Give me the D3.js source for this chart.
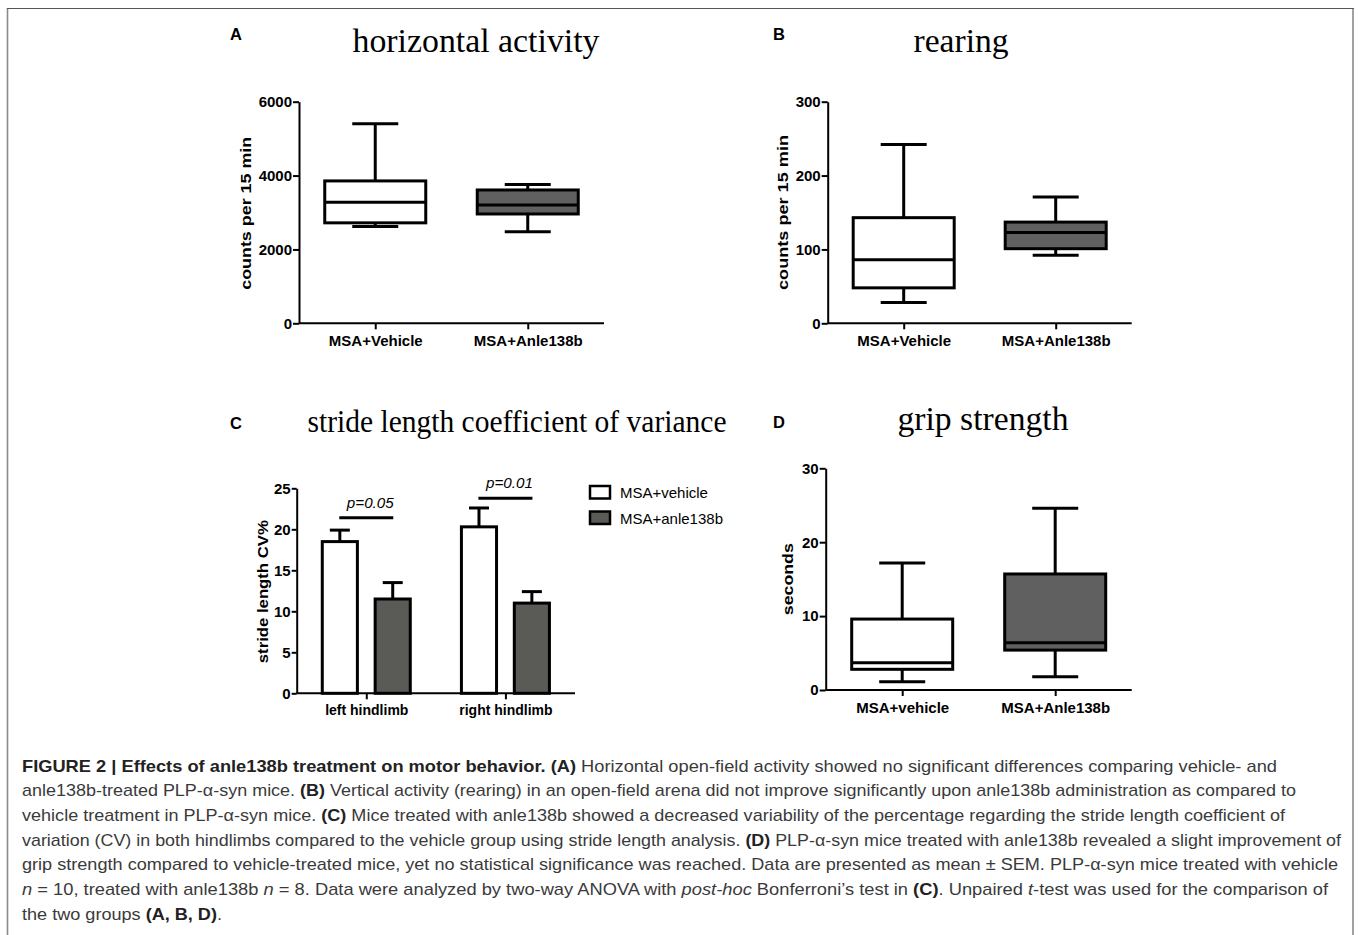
<!DOCTYPE html>
<html>
<head>
<meta charset="utf-8">
<script src="https://cdn.jsdelivr.net/npm/d3@7/dist/d3.min.js"></script>
<style>
  html, body { margin: 0; padding: 0; background: #fff; }
  svg { display: block; }
</style>
</head>
<body>
<svg id="chart" width="1358" height="935"></svg>
<script>
// ---------------- DATA ----------------
const boxGroupsAB = ["MSA+Vehicle", "MSA+Anle138b"];
const boxGroupsD = ["MSA+vehicle", "MSA+Anle138b"];
const horizontalStats = [
  { min: 2620, q1: 2720, median: 3280, q3: 3855, max: 5400 },
  { min: 2480, q1: 2960, median: 3200, q3: 3610, max: 3760 }
];
const rearingStats = [
  { min: 28, q1: 48, median: 86, q3: 143, max: 242 },
  { min: 92, q1: 101, median: 123, q3: 137, max: 171 }
];
const gripStats = [
  { min: 1.1, q1: 2.8, median: 3.7, q3: 9.6, max: 17.2 },
  { min: 1.8, q1: 5.4, median: 6.4, q3: 15.7, max: 24.6 }
];
const horizontalTicks = [0, 2000, 4000, 6000];
const rearingTicks = [0, 100, 200, 300];
const gripTicks = [0, 10, 20, 30];

const strideLimbs = ["left hindlimb", "right hindlimb"];
const strideSeries = ["MSA+vehicle", "MSA+anle138b"];
const strideVehicleMean = [18.5, 20.3];
const strideVehicleSEM = [1.4, 2.3];
const strideAnleMean = [11.5, 11.0];
const strideAnleSEM = [2.0, 1.4];
const strideTicks = [0, 5, 10, 15, 20, 25];
const sigLabels = ["p=0.05", "p=0.01"];
const sigLevels = [21.4, 23.8];

const titles = ["horizontal activity", "rearing", "stride length coefficient of variance", "grip strength"];
const panelLetters = ["A", "B", "C", "D"];

// ---------------- STYLES ----------------
const WHITE = "#ffffff";
const BOXDARK = "#606060";
const BARDARK = "#5a5b56";
const SANS = "'Liberation Sans', Arial, Helvetica, sans-serif";
const SERIF = "'Liberation Serif', 'Times New Roman', serif";

const svg = d3.select("#chart");

// Border
svg.append("line").attr("x1", 7.5).attr("x2", 7.5).attr("y1", 8).attr("y2", 935)
  .attr("stroke", "#8a8a8a").attr("stroke-width", 1.6);
svg.append("line").attr("x1", 1353).attr("x2", 1353).attr("y1", 8).attr("y2", 935)
  .attr("stroke", "#8a8a8a").attr("stroke-width", 1.6);
svg.append("line").attr("x1", 7).attr("x2", 1354).attr("y1", 8.5).attr("y2", 8.5)
  .attr("stroke", "#555").attr("stroke-width", 1.2);

function styleAxis(g) {
  g.selectAll(".domain").attr("stroke", "#000").attr("stroke-width", 2);
  g.selectAll(".tick line").attr("stroke", "#000").attr("stroke-width", 2);
  g.selectAll(".tick text").attr("fill", "#000").attr("font-family", SANS)
    .attr("font-weight", "bold").attr("font-size", 15);
}

function yLabel(text, x, yc, len) {
  svg.append("text")
    .attr("transform", `translate(${x},${yc}) rotate(-90)`)
    .attr("text-anchor", "middle")
    .attr("font-family", SANS).attr("font-weight", "bold").attr("font-size", 15)
    .attr("textLength", len).attr("lengthAdjust", "spacingAndGlyphs")
    .attr("fill", "#000")
    .text(text);
}

function title(i, cx, by, len, size) {
  const t = svg.append("text").attr("x", cx).attr("y", by).attr("text-anchor", "middle")
    .attr("font-family", SERIF).attr("font-size", size || 33.5).attr("fill", "#000")
    .text(titles[i]);
  if (len) t.attr("textLength", len).attr("lengthAdjust", "spacingAndGlyphs");
}
function letter(i, x, by) {
  svg.append("text").attr("x", x).attr("y", by)
    .attr("font-family", SANS).attr("font-weight", "bold").attr("font-size", 16.5).attr("fill", "#000")
    .text(panelLetters[i]);
}

function boxPanel(cfg) {
  const x = d3.scalePoint().domain(cfg.groups).range([cfg.x0, cfg.x1]).padding(0.5);
  const y = d3.scaleLinear().domain([0, cfg.ticks[cfg.ticks.length - 1]]).range([cfg.y0, cfg.y1]);
  const g = svg.append("g");
  const boxW = 101, capW = 46;
  cfg.stats.forEach((s, i) => {
    const cx = x(cfg.groups[i]);
    const fill = i === 0 ? WHITE : BOXDARK;
    g.append("line").attr("x1", cx).attr("x2", cx).attr("y1", y(s.q3)).attr("y2", y(s.max))
      .attr("stroke", "#000").attr("stroke-width", 3);
    g.append("line").attr("x1", cx).attr("x2", cx).attr("y1", y(s.q1)).attr("y2", y(s.min))
      .attr("stroke", "#000").attr("stroke-width", 3);
    g.append("line").attr("x1", cx - capW / 2).attr("x2", cx + capW / 2).attr("y1", y(s.max)).attr("y2", y(s.max))
      .attr("stroke", "#000").attr("stroke-width", 3);
    g.append("line").attr("x1", cx - capW / 2).attr("x2", cx + capW / 2).attr("y1", y(s.min)).attr("y2", y(s.min))
      .attr("stroke", "#000").attr("stroke-width", 3);
    g.append("rect").attr("x", cx - boxW / 2).attr("width", boxW)
      .attr("y", y(s.q3)).attr("height", y(s.q1) - y(s.q3))
      .attr("fill", fill).attr("stroke", "#000").attr("stroke-width", 3);
    g.append("line").attr("x1", cx - boxW / 2).attr("x2", cx + boxW / 2)
      .attr("y1", y(s.median)).attr("y2", y(s.median))
      .attr("stroke", "#000").attr("stroke-width", 3);
  });
  const ya = svg.append("g").attr("transform", `translate(${cfg.x0},0)`)
    .call(d3.axisLeft(y).tickValues(cfg.ticks).tickSize(6).tickPadding(1).tickSizeOuter(0).tickFormat(d3.format("d")));
  styleAxis(ya);
  const xa = svg.append("g").attr("transform", `translate(0,${cfg.y0})`)
    .call(d3.axisBottom(x).tickSize(6).tickPadding(6).tickSizeOuter(0));
  styleAxis(xa);
  xa.select(".domain").attr("d", `M${cfg.x0},0H${cfg.x1}`);
}

// Panel A
letter(0, 230, 40);
title(0, 476, 52, 247);
boxPanel({ groups: boxGroupsAB, stats: horizontalStats, ticks: horizontalTicks,
  x0: 299, x1: 604, y0: 323.3, y1: 101.7 });
yLabel("counts per 15 min", 251, 213.3, 153);

// Panel B
letter(1, 773, 40);
title(1, 961, 52, 95);
boxPanel({ groups: boxGroupsAB, stats: rearingStats, ticks: rearingTicks,
  x0: 827.7, x1: 1131.7, y0: 323.3, y1: 101.7 });
yLabel("counts per 15 min", 788, 212.5, 155);

// Panel D
letter(3, 773, 428);
title(3, 983, 430, 171);
boxPanel({ groups: boxGroupsD, stats: gripStats, ticks: gripTicks,
  x0: 825.7, x1: 1131.7, y0: 690, y1: 468.3 });
yLabel("seconds", 793, 579.2, 72);

// Panel C
letter(2, 230, 429);
title(2, 517, 431.5, 419, 31);
(function () {
  const x0 = 296.7, x1 = 575, y0 = 693.3, y1 = 488.3;
  const x = d3.scalePoint().domain(strideLimbs).range([x0, x1]).padding(0.5);
  const xs = d3.scaleBand().domain(strideSeries).range([-44, 44]).paddingInner(0.336).paddingOuter(0);
  const y = d3.scaleLinear().domain([0, 25]).range([y0, y1]);
  const means = [strideVehicleMean, strideAnleMean];
  const sems = [strideVehicleSEM, strideAnleSEM];
  const fills = [WHITE, BARDARK];
  const capW = 20;
  strideLimbs.forEach((limb, li) => {
    strideSeries.forEach((ser, si) => {
      const bx = x(limb) + xs(ser);
      const bw = xs.bandwidth();
      const m = means[si][li], e = sems[si][li];
      const cx = bx + bw / 2;
      svg.append("line").attr("x1", cx).attr("x2", cx).attr("y1", y(m)).attr("y2", y(m + e))
        .attr("stroke", "#000").attr("stroke-width", 3);
      svg.append("line").attr("x1", cx - capW / 2).attr("x2", cx + capW / 2).attr("y1", y(m + e)).attr("y2", y(m + e))
        .attr("stroke", "#000").attr("stroke-width", 3);
      svg.append("rect").attr("x", bx).attr("width", bw)
        .attr("y", y(m)).attr("height", y(0) - y(m))
        .attr("fill", fills[si]).attr("stroke", "#000").attr("stroke-width", 3);
    });
    const cx = x(limb);
    svg.append("line").attr("x1", cx - 27).attr("x2", cx + 27)
      .attr("y1", y(sigLevels[li])).attr("y2", y(sigLevels[li]))
      .attr("stroke", "#000").attr("stroke-width", 3);
    svg.append("text").attr("x", cx + 4).attr("y", y(sigLevels[li]) - 10)
      .attr("text-anchor", "middle").attr("font-family", SANS).attr("font-style", "italic")
      .attr("font-size", 15.2).attr("fill", "#000").text(sigLabels[li]);
  });
  const ya = svg.append("g").attr("transform", `translate(${x0},0)`)
    .call(d3.axisLeft(y).tickValues(strideTicks).tickSize(5).tickPadding(1).tickSizeOuter(0));
  styleAxis(ya);
  const xa = svg.append("g").attr("transform", `translate(0,${y0})`)
    .call(d3.axisBottom(x).tickSize(6).tickPadding(6).tickSizeOuter(0));
  styleAxis(xa);
  xa.selectAll(".tick text").attr("font-size", 14);
  xa.select(".domain").attr("d", `M${x0},0H${x1}`);
  yLabel("stride length CV%", 268, 591.7, 143);

  const leg = svg.append("g");
  strideSeries.forEach((s, i) => {
    const ly = 486 + i * 25.5;
    leg.append("rect").attr("x", 590).attr("y", ly).attr("width", 20).attr("height", 12.5)
      .attr("fill", fills[i]).attr("stroke", "#000").attr("stroke-width", 2.5);
    leg.append("text").attr("x", 620).attr("y", ly + 12).attr("font-family", SANS)
      .attr("font-size", 15).attr("fill", "#000").text(s);
  });
})();

// ---------------- CAPTION ----------------
const captionLines = [
  [["b", "FIGURE 2 | Effects of anle138b treatment on motor behavior. (A)"], ["n", " Horizontal open-field activity showed no significant differences comparing vehicle- and"]],
  [["n", "anle138b-treated PLP-α-syn mice. "], ["b", "(B)"], ["n", " Vertical activity (rearing) in an open-field arena did not improve significantly upon anle138b administration as compared to"]],
  [["n", "vehicle treatment in PLP-α-syn mice. "], ["b", "(C)"], ["n", " Mice treated with anle138b showed a decreased variability of the percentage regarding the stride length coefficient of"]],
  [["n", "variation (CV) in both hindlimbs compared to the vehicle group using stride length analysis. "], ["b", "(D)"], ["n", " PLP-α-syn mice treated with anle138b revealed a slight improvement of"]],
  [["n", "grip strength compared to vehicle-treated mice, yet no statistical significance was reached. Data are presented as mean ± SEM. PLP-α-syn mice treated with vehicle"]],
  [["i", "n"], ["n", " = 10, treated with anle138b "], ["i", "n"], ["n", " = 8. Data were analyzed by two-way ANOVA with "], ["i", "post-hoc"], ["n", " Bonferroni’s test in "], ["b", "(C)"], ["n", ". Unpaired "], ["i", "t"], ["n", "-test was used for the comparison of"]],
  [["n", "the two groups "], ["b", "(A, B, D)"], ["n", "."]]
];
const captionWidths = [1255, 1274, 1263, 1319, 1316, 1306, 200];
captionLines.forEach((segs, li) => {
  const t = svg.append("text").attr("x", 22).attr("y", 771.5 + li * 24.7)
    .attr("font-family", SANS).attr("font-size", 17).attr("fill", "#3a3a3a")
    .attr("textLength", captionWidths[li]).attr("lengthAdjust", "spacingAndGlyphs");
  segs.forEach(([k, s]) => {
    const ts = t.append("tspan").text(s);
    if (k === "b") ts.attr("font-weight", "bold").attr("fill", "#222");
    if (k === "i") ts.attr("font-style", "italic");
  });
});
</script>
</body>
</html>
